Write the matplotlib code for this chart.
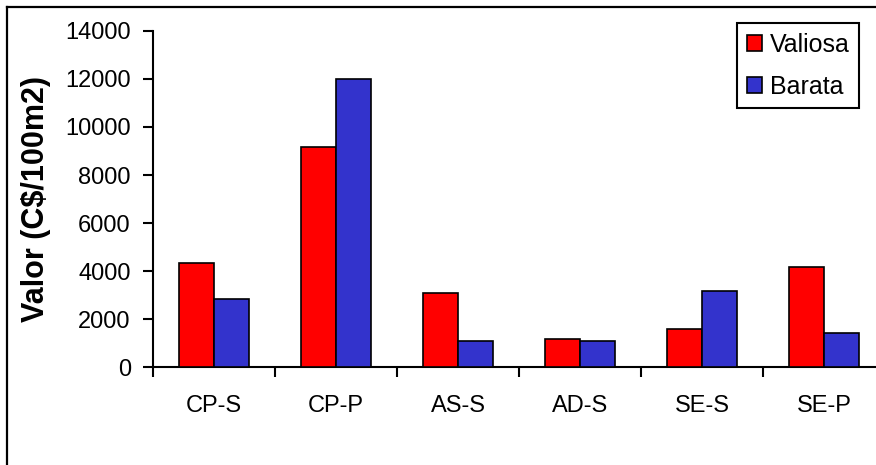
import matplotlib.pyplot as plt
from matplotlib.lines import Line2D
import numpy as np

plt.rcParams['font.family'] = ['Liberation Sans', 'DejaVu Sans']

categorias = ['CP-S', 'CP-P', 'AS-S', 'AD-S', 'SE-S', 'SE-P']
valiosa = [4330, 9170, 3090, 1170, 1590, 4170]
barata = [2830, 12000, 1090, 1090, 3170, 1420]

W, H = 876, 465
fig = plt.figure(figsize=(W / 100, H / 100), dpi=100)

# ejes en pixeles: izquierda 153, base 367, arriba 31, 122 px por categoria
ax = fig.add_axes([153 / W, (H - 367) / H, 732 / W, 336 / H])

x = np.arange(len(categorias))
ancho = 0.29
ax.bar(x - ancho / 2, valiosa, ancho, color='#FF0000', edgecolor='black',
       linewidth=1.2, label='Valiosa', zorder=3)
ax.bar(x + ancho / 2, barata, ancho, color='#3333CC', edgecolor='black',
       linewidth=1.2, label='Barata', zorder=3)

ax.set_xlim(-0.5, len(categorias) - 0.5)
ax.set_ylim(0, 14000)
ax.set_yticks(np.arange(0, 14001, 2000))

# marcas mayores entre categorias, etiquetas centradas como marcas menores
ax.set_xticks(np.arange(-0.5, len(categorias), 1))
ax.set_xticklabels([])
ax.set_xticks(x, minor=True)
ax.set_xticklabels(categorias, minor=True)
ax.tick_params(axis='x', which='major', direction='out', length=7, width=1.5)
ax.tick_params(axis='x', which='minor', length=0, pad=20, labelsize=17)
ax.tick_params(axis='y', direction='out', length=7, width=1.5, pad=9,
               labelsize=17)

for lado in ['top', 'right']:
    ax.spines[lado].set_visible(False)
for lado in ['left', 'bottom']:
    ax.spines[lado].set_linewidth(1.5)

ax.set_ylabel('Valor (C$/100m2)', fontsize=22, fontweight='bold')
ax.yaxis.set_label_coords(-102 / 732, 0.5)

fig.legend(loc='upper left', bbox_to_anchor=(737 / W, 1 - 23 / H),
           fontsize=18, frameon=True, fancybox=False, edgecolor='black',
           framealpha=1, handlelength=0.6, handleheight=0.6,
           handletextpad=0.3, borderpad=0.4, labelspacing=0.7,
           borderaxespad=0).get_frame().set_linewidth(1.5)

# marco exterior del grafico (solo se ven los lados izquierdo y superior)
fig.add_artist(Line2D([7 / W, 7 / W], [0, 1 - 7 / H], color='black',
                      linewidth=1.6, transform=fig.transFigure))
fig.add_artist(Line2D([7 / W, 1], [1 - 7 / H, 1 - 7 / H], color='black',
                      linewidth=1.6, transform=fig.transFigure))

fig.savefig('out.png', dpi=100)
